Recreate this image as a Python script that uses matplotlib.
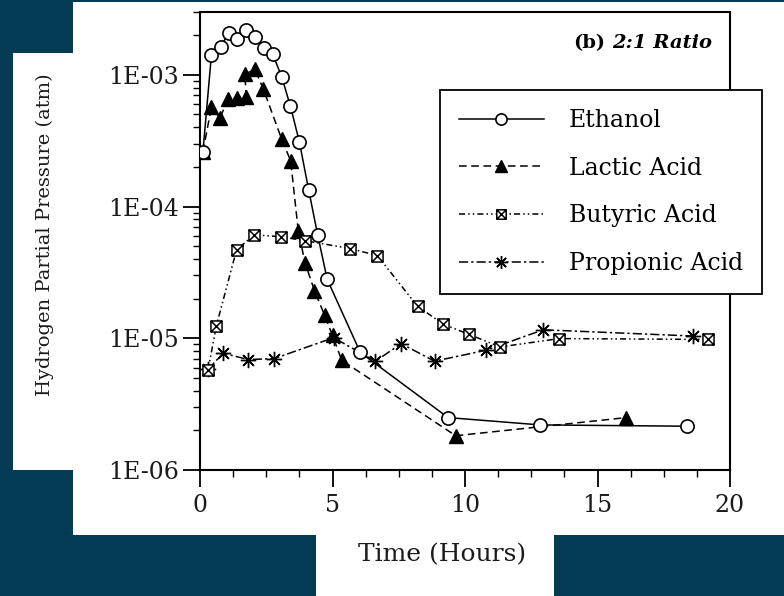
import matplotlib
matplotlib.use("Agg")
import matplotlib.pyplot as plt
from matplotlib.patches import Rectangle
from matplotlib.path import Path
from matplotlib.ticker import FixedLocator, LogLocator, NullFormatter

# datos
eth_t = [0.11, 0.43, 0.78, 1.09, 1.41, 1.75, 2.08, 2.41, 2.74, 3.08, 3.41, 3.75, 4.10, 4.44, 4.80, 6.05, 9.36, 12.83, 18.36]
eth_p = [2.6e-4, 1.41e-3, 1.64e-3, 2.09e-3, 1.86e-3, 2.19e-3, 1.95e-3, 1.61e-3, 1.44e-3, 9.7e-4, 5.8e-4, 3.1e-4, 1.34e-4, 6.1e-5, 2.8e-5, 7.8e-6, 2.5e-6, 2.2e-6, 2.15e-6]

lac_t = [0.11, 0.43, 0.75, 1.06, 1.38, 1.75, 1.69, 2.07, 2.39, 3.08, 3.42, 3.71, 3.97, 4.32, 4.70, 5.00, 5.35, 9.65, 16.09]
lac_p = [2.6e-4, 5.7e-4, 4.7e-4, 6.5e-4, 6.7e-4, 6.8e-4, 1.01e-3, 1.1e-3, 7.8e-4, 3.26e-4, 2.23e-4, 6.5e-5, 3.7e-5, 2.3e-5, 1.5e-5, 1.05e-5, 6.8e-6, 1.82e-6, 2.5e-6]

but_t = [0.30, 0.62, 1.38, 2.05, 3.06, 3.98, 5.66, 6.69, 8.21, 9.18, 10.15, 11.33, 13.56, 19.18]
but_p = [5.7e-6, 1.25e-5, 4.7e-5, 6.1e-5, 5.9e-5, 5.5e-5, 4.8e-5, 4.25e-5, 1.75e-5, 1.28e-5, 1.07e-5, 8.6e-6, 9.95e-6, 9.8e-6]

pro_t = [0.30, 0.87, 1.82, 2.79, 5.04, 6.62, 7.59, 8.85, 10.78, 12.95, 18.61]
pro_p = [5.8e-6, 7.7e-6, 6.9e-6, 7.0e-6, 1.01e-5, 6.7e-6, 9.1e-6, 6.7e-6, 8.1e-6, 1.16e-5, 1.04e-5]

nombres = ["Ethanol", "Lactic Acid", "Butyric Acid", "Propionic Acid"]

fondo = "#033a54"
fig = plt.figure(figsize=(7.84, 5.96), dpi=100, facecolor=fondo)

# recortes blancos del escaneo
for x0, y0, w, h in [(73, 2, 711, 533), (13, 53, 60, 417), (316, 535, 238, 61)]:
    fig.patches.append(Rectangle((x0 / 784, 1 - (y0 + h) / 596), w / 784, h / 596,
                                 transform=fig.transFigure, facecolor="white",
                                 edgecolor="none", zorder=-5))

ax = fig.add_axes([200 / 784, 126 / 596, 530 / 784, 458 / 596])
ax.set_facecolor("white")

# marcador cuadrado con cruz
caja = Path([(-1, -1), (1, -1), (1, 1), (-1, 1), (-1, -1), (-1, -1), (1, 1), (-1, 1), (1, -1)],
            [Path.MOVETO, Path.LINETO, Path.LINETO, Path.LINETO, Path.CLOSEPOLY,
             Path.MOVETO, Path.LINETO, Path.MOVETO, Path.LINETO])

l2, = ax.plot(lac_t, lac_p, linestyle=(0, (5, 3)), color="black", lw=1.1,
              marker="^", ms=9.5, mfc="black", mec="black", zorder=3)
l3, = ax.plot(but_t, but_p, linestyle=(0, (4, 2, 1, 2, 1, 2)), color="black", lw=1.1,
              marker=caja, ms=8, mfc="white", mec="black", mew=1.1, zorder=4)
l4, = ax.plot(pro_t, pro_p, linestyle=(0, (6, 2, 1.5, 2)), color="black", lw=1.1,
              marker=(8, 2, 0), ms=11, mec="black", mew=1.0, zorder=3)
l1, = ax.plot(eth_t, eth_p, linestyle="-", color="black", lw=1.1,
              marker="o", ms=9.5, mfc="white", mec="black", mew=1.2, zorder=5)

ax.set_yscale("log")
ax.set_xlim(0, 20)
ax.set_ylim(1e-6, 3e-3)

ax.xaxis.set_major_locator(FixedLocator([0, 5, 10, 15, 20]))
ax.xaxis.set_minor_locator(FixedLocator([1.25 * i for i in range(17)]))
ax.yaxis.set_major_locator(FixedLocator([1e-6, 1e-5, 1e-4, 1e-3]))
ax.yaxis.set_minor_locator(LogLocator(base=10, subs=range(2, 10)))
ax.yaxis.set_minor_formatter(NullFormatter())
ax.set_yticklabels(["1E-06", "1E-05", "1E-04", "1E-03"])

fuente = "DejaVu Serif"
for lab in ax.get_xticklabels() + ax.get_yticklabels():
    lab.set_fontfamily(fuente)
    lab.set_fontsize(17)
    lab.set_color("#1a1a1a")

ax.tick_params(which="major", direction="out", length=12, width=1.3, pad=5)
ax.tick_params(which="minor", direction="out", length=5, width=1.0)
ax.tick_params(axis="y", which="major", pad=3)
for s in ax.spines.values():
    s.set_linewidth(1.5)

fig.text(45 / 784, 1 - 235 / 596, "Hydrogen Partial Pressure (atm)", rotation=90,
         ha="center", va="center", fontsize=14, family=fuente, color="#1a1a1a")
fig.text(442 / 784, 1 - 555 / 596, "Time (Hours)", ha="center", va="center",
         fontsize=18, family=fuente, color="#1a1a1a")

fig.text(712 / 784, 1 - 43 / 596, "2:1 Ratio", ha="right", va="center",
         fontsize=14, weight="bold", style="italic", family=fuente)
fig.text(605 / 784, 1 - 43 / 596, "(b)", ha="right", va="center",
         fontsize=14, weight="bold", family=fuente)

leg = ax.legend([l1, l2, l3, l4], nombres, loc="upper left",
                bbox_to_anchor=(440 / 784, 1 - 90 / 596), bbox_transform=fig.transFigure,
                frameon=True, fancybox=False, edgecolor="black", framealpha=1,
                borderaxespad=0, handlelength=3.6, handletextpad=1.05,
                labelspacing=1.05, borderpad=0.8, markerscale=0.85,
                prop={"family": fuente, "size": 17})
leg.get_frame().set_linewidth(1.3)
leg.set_zorder(10)
leg.set_clip_on(False)

fig.savefig("out.png", dpi=100, facecolor=fondo)
